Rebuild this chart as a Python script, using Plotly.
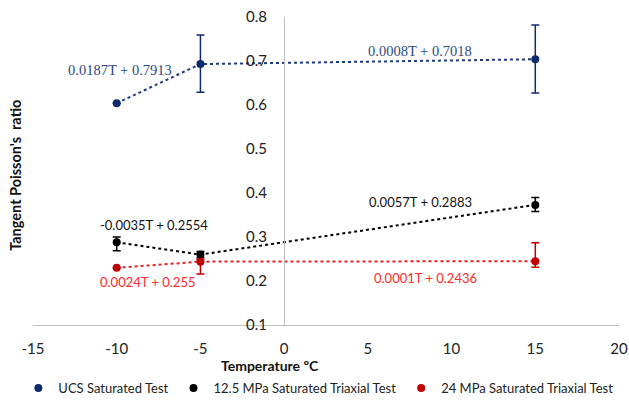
import plotly.graph_objects as go

temps = [-10, -5, 15]

ucs_vals = [0.604, 0.693, 0.704]
ucs_err_plus = [0.0, 0.066, 0.078]
ucs_err_minus = [0.0, 0.064, 0.077]

mpa12_vals = [0.288, 0.260, 0.373]
mpa12_err_plus = [0.012, 0.007, 0.017]
mpa12_err_minus = [0.019, 0.007, 0.015]

mpa24_vals = [0.230, 0.244, 0.245]
mpa24_err_plus = [0.0, 0.005, 0.042]
mpa24_err_minus = [0.0, 0.028, 0.014]

series_names = ["UCS Saturated Test", "12.5 MPa Saturated Triaxial Test", "24 MPa Saturated Triaxial Test"]

eq_texts = ["0.0187T + 0.7913", "0.0008T + 0.7018",
            "-0.0035T + 0.2554", "0.0057T + 0.2883",
            "0.0024T + 0.255", "0.0001T + 0.2436"]

x_ticks = [-15, -10, -5, 0, 5, 10, 15, 20]
y_ticks = [0.1, 0.2, 0.3, 0.4, 0.5, 0.6, 0.7, 0.8]

SANS = "Lato, Carlito, 'Liberation Sans', sans-serif"
SERIF = "'Liberation Serif', 'DejaVu Serif', serif"

blue = "#0E2A6B"
blue_line = "#1F3A80"
blue_txt = "#2F4A85"
black = "#000000"
red = "#C00000"
red_line = "#E82020"
red_txt = "#FF2A2A"

fig = go.Figure()

series = [
    (ucs_vals, ucs_err_plus, ucs_err_minus, blue, blue_line, series_names[0]),
    (mpa12_vals, mpa12_err_plus, mpa12_err_minus, black, black, series_names[1]),
    (mpa24_vals, mpa24_err_plus, mpa24_err_minus, red, red_line, series_names[2]),
]

# dotted trend segments
for vals, ep, em, mc, lc, name in series:
    fig.add_trace(go.Scatter(x=temps, y=vals, mode="lines",
                             line=dict(color=lc, width=2, dash="dot"),
                             showlegend=False, hoverinfo="skip"))

for vals, ep, em, mc, lc, name in series:
    fig.add_trace(go.Scatter(
        x=temps, y=vals, mode="markers", name=name,
        marker=dict(color=mc, size=8),
        error_y=dict(type="data", symmetric=False, array=ep, arrayminus=em,
                     color=mc, thickness=1.5, width=4),
    ))

ann_specs = [
    (eq_texts[0], -9.80, 0.680, blue_txt, SERIF, 14.5),
    (eq_texts[1], 8.12, 0.723, blue_txt, SERIF, 14.5),
    (eq_texts[2], -7.77, 0.327, "#111111", SANS, 13),
    (eq_texts[3], 8.12, 0.380, "#111111", SANS, 13),
    (eq_texts[4], -8.19, 0.198, red_txt, SANS, 13),
    (eq_texts[5], 8.42, 0.206, red_txt, SANS, 13),
]
annotations = []
for t, ax_, ay_, col, fam, fs in ann_specs:
    annotations.append(dict(text=t, x=ax_, y=ay_, xref="x", yref="y",
                            showarrow=False, xanchor="center", yanchor="middle",
                            font=dict(family=fam, size=fs, color=col)))

annotations.append(dict(text="<b>Tangent Poisson's&nbsp; ratio</b>", xref="paper", yref="paper",
                        x=-0.031, y=0.487, textangle=-90, showarrow=False,
                        xanchor="center", yanchor="middle",
                        font=dict(family=SANS, size=14.5, color="#111111")))
annotations.append(dict(text="<b>Temperature ºC</b>", xref="paper", yref="paper",
                        x=0.405, y=-0.13, showarrow=False,
                        xanchor="center", yanchor="middle",
                        font=dict(family=SANS, size=14, color="#111111")))

fig.update_layout(
    width=629, height=400,
    margin=dict(l=33, r=10, t=17, b=75, autoexpand=False),
    paper_bgcolor="white", plot_bgcolor="white",
    font=dict(family=SANS, size=15, color="#222222"),
    showlegend=True,
    legend=dict(orientation="h", x=-0.025, xanchor="left", y=-0.205, yanchor="middle",
                font=dict(family=SANS, size=13, color="#222222"),
                itemwidth=30, tracegroupgap=0),
    annotations=annotations,
    xaxis=dict(range=[-15, 20], tickvals=x_ticks, ticktext=[str(v) for v in x_ticks],
               showgrid=False, zeroline=False, showline=True, linecolor="#BFBFBF",
               linewidth=1.3, ticks="", tickfont=dict(size=15), ticklabelstandoff=10),
    yaxis=dict(range=[0.1, 0.8], tickvals=y_ticks, ticktext=[f"{v:.1f}" for v in y_ticks],
               showgrid=False, zeroline=False, showline=True, linecolor="#BFBFBF",
               linewidth=1.3, ticks="", anchor="free", position=15/35,
               tickfont=dict(size=15), ticklabelstandoff=14),
)

fig.write_html("out.html")
